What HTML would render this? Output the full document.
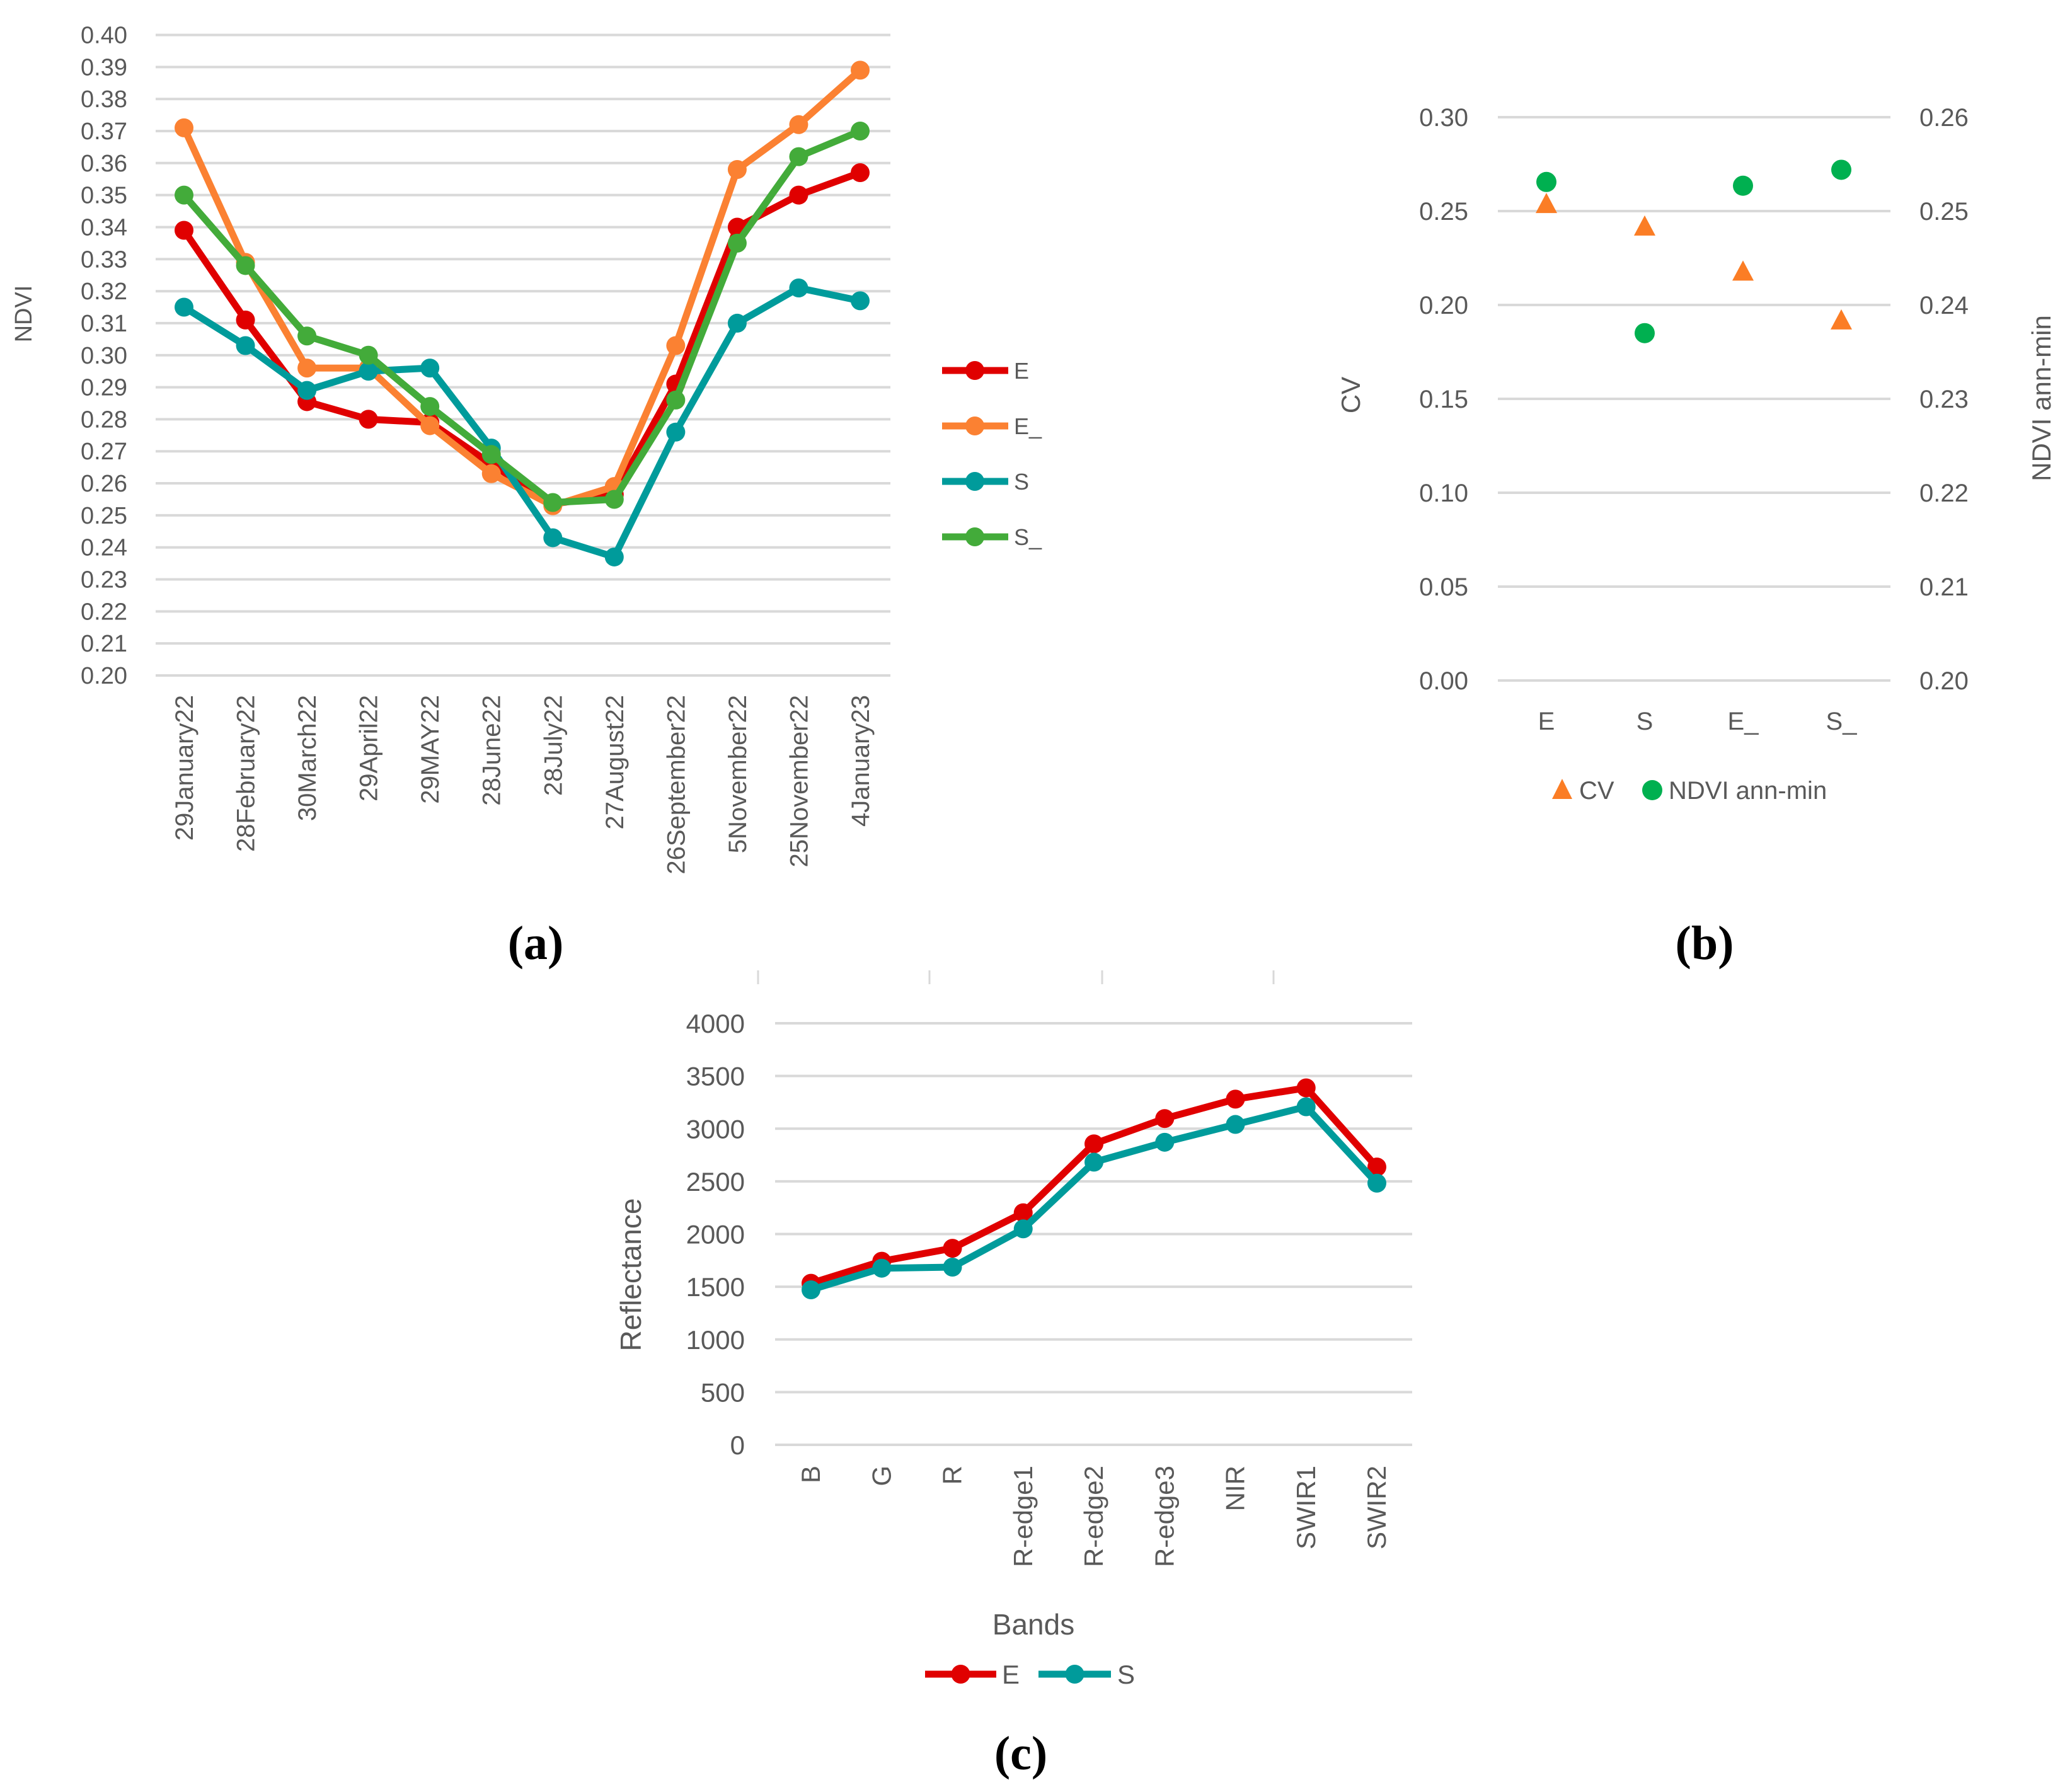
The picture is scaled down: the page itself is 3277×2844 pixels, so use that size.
<!DOCTYPE html>
<html><head><meta charset="utf-8">
<style>
html,body{margin:0;padding:0;background:#fff;}
svg{display:block;}
text{font-family:"Liberation Sans",sans-serif;fill:#595959;}
.lab{font-family:"Liberation Serif",serif;fill:#000;font-weight:bold;}
</style></head>
<body>
<svg id="svg" xmlns="http://www.w3.org/2000/svg" width="3277" height="2844" viewBox="0 0 3277 2844">
<g id="ga"></g>
<g id="gb"></g>
<g id="gc"></g>
<text class="lab" x="850" y="1522" font-size="76" text-anchor="middle">(a)</text>
<text class="lab" x="2705" y="1522" font-size="76" text-anchor="middle">(b)</text>
<text class="lab" x="1620" y="2808" font-size="76" text-anchor="middle">(c)</text>
</svg>
<script>
const aDates=["29January22","28February22","30March22","29April22","29MAY22","28June22","28July22","27August22","26September22","5November22","25November22","4January23"];
const aTicks=["0.20","0.21","0.22","0.23","0.24","0.25","0.26","0.27","0.28","0.29","0.30","0.31","0.32","0.33","0.34","0.35","0.36","0.37","0.38","0.39","0.40"];
const aE=[0.339,0.311,0.2855,0.280,0.279,0.266,0.2535,0.2565,0.291,0.340,0.350,0.357];
const aE_=[0.371,0.329,0.296,0.296,0.278,0.263,0.253,0.259,0.303,0.358,0.372,0.389];
const aS=[0.315,0.303,0.289,0.295,0.296,0.271,0.243,0.237,0.276,0.310,0.321,0.317];
const aS_=[0.350,0.328,0.306,0.300,0.284,0.269,0.254,0.255,0.286,0.335,0.362,0.370];

const bCats=["E","S","E_","S_"];
const bLeftTicks=["0.00","0.05","0.10","0.15","0.20","0.25","0.30"];
const bRightTicks=["0.20","0.21","0.22","0.23","0.24","0.25","0.26"];
const bCV=[0.254,0.242,0.218,0.192];
const bNDVI=[0.2531,0.2370,0.2527,0.2544];

const cBands=["B","G","R","R-edge1","R-edge2","R-edge3","NIR","SWIR1","SWIR2"];
const cTicks=["0","500","1000","1500","2000","2500","3000","3500","4000"];
const cE=[1533,1742,1865,2202,2856,3096,3280,3387,2636];
const cS=[1471,1676,1686,2049,2682,2871,3040,3208,2483];

const NS="http://www.w3.org/2000/svg";
function mk(parent,tag,attrs,txt){const e=document.createElementNS(NS,tag);for(const k in attrs)e.setAttribute(k,attrs[k]);if(txt!==undefined)e.textContent=txt;parent.appendChild(e);return e;}
const GRID="#d9d9d9";

// ---------- Chart A ----------
(function(){
const g=document.getElementById('ga');
const x0=247,x1=1413,yTop=55.5,yBot=1072,vmin=0.20,vmax=0.40;
const y=v=>yBot-(v-vmin)/(vmax-vmin)*(yBot-yTop);
const cx0=292,dx=(1365-292)/(aDates.length-1);
const x=i=>cx0+i*dx;
aTicks.forEach(t=>{const v=parseFloat(t);
 const l=mk(g,'line',{x1:x0,x2:x1,y1:y(v),y2:y(v),stroke:GRID,'stroke-width':4});
 
 
 const tx=mk(g,'text',{x:202,y:y(v)+13,'font-size':38,'text-anchor':'end'},t);
 
 
});
aDates.forEach((d,i)=>{const tx=mk(g,'text',{transform:`translate(${x(i)+14},1103) rotate(-90)`,'font-size':40,'text-anchor':'end'},d);
 
 });
const yl=mk(g,'text',{transform:'translate(50,498) rotate(-90)','font-size':38,'text-anchor':'middle'},'NDVI');


const series=[["E",aE,"#e00000"],["E_",aE_,"#fb8132"],["S",aS,"#009b9b"],["S_",aS_,"#43ab3a"]];
series.forEach(([nm,vals,col])=>{
 const sg=mk(g,'g',{});
 
 
 const p=mk(sg,'polyline',{points:vals.map((v,i)=>x(i)+','+y(v)).join(' '),fill:'none',stroke:col,'stroke-width':11,'stroke-linejoin':'round'});
 
 
 vals.forEach((v,i)=>{const c=mk(sg,'circle',{cx:x(i),cy:y(v),r:15,fill:col});
  
  });
});
const ly=[588,676,764,852];
series.forEach(([nm,vals,col],k)=>{
 const lg=mk(g,'g',{});
 
 
 mk(lg,'line',{x1:1495,x2:1600,y1:ly[k],y2:ly[k],stroke:col,'stroke-width':11});
 mk(lg,'circle',{cx:1547,cy:ly[k],r:15,fill:col});
 mk(lg,'text',{x:1609,y:ly[k]+13,'font-size':36},nm);
});
})();

// ---------- Chart B ----------
(function(){
const g=document.getElementById('gb');
const x0=2377,x1=3000,yTop=186,yBot=1080;
const yL=v=>yBot-(v-0)/(0.30)*(yBot-yTop);
const yR=v=>yBot-(v-0.20)/(0.06)*(yBot-yTop);
const cx0=2454,dx=(2922-2454)/3;const x=i=>cx0+i*dx;
bLeftTicks.forEach((t,k)=>{const v=parseFloat(t);
 const l=mk(g,'line',{x1:x0,x2:x1,y1:yL(v),y2:yL(v),stroke:GRID,'stroke-width':4});
 
 
 const tx=mk(g,'text',{x:2330,y:yL(v)+14,'font-size':40,'text-anchor':'end'},t);
 
 
});
bRightTicks.forEach(t=>{const v=parseFloat(t);
 const tx=mk(g,'text',{x:3046,y:yR(v)+14,'font-size':40},t);
 
 });
bCats.forEach((c,i)=>{const tx=mk(g,'text',{x:x(i),y:1158,'font-size':40,'text-anchor':'middle'},c);
 
 });
let t=mk(g,'text',{transform:'translate(2158,627) rotate(-90)','font-size':42,'text-anchor':'middle'},'CV');


t=mk(g,'text',{transform:'translate(3254,632) rotate(-90)','font-size':42,'text-anchor':'middle'},'NDVI ann-min');


bCV.forEach((v,i)=>{const cx=x(i),cy=yL(v);
 const p=mk(g,'polygon',{points:`${cx},${cy-17} ${cx+17},${cy+15} ${cx-17},${cy+15}`,fill:'#fb7d25'});
 
 });
bNDVI.forEach((v,i)=>{const c=mk(g,'circle',{cx:x(i),cy:yR(v),r:16,fill:'#00b050'});
 
 });
const l1=mk(g,'g',{});


mk(l1,'polygon',{points:'2479,1236 2495,1268 2463,1268',fill:'#fb7d25'});
mk(l1,'text',{x:2506,y:1268,'font-size':40},'CV');
const l2=mk(g,'g',{});


mk(l2,'circle',{cx:2622,cy:1254,r:16,fill:'#00b050'});
mk(l2,'text',{x:2648,y:1268,'font-size':40},'NDVI ann-min');
})();

// ---------- Chart C ----------
(function(){
const g=document.getElementById('gc');
const x0=1230,x1=2241,yTop=1624,yBot=2293;
const y=v=>yBot-v/4000*(yBot-yTop);
const cx0=1287,dx=(2185-1287)/8;const x=i=>cx0+i*dx;
[1203,1475,1749,2021].forEach(tx=>{const l=mk(g,'line',{x1:tx,x2:tx,y1:1540,y2:1562,stroke:GRID,'stroke-width':3});
 
 });
cTicks.forEach(t=>{const v=parseFloat(t);
 const l=mk(g,'line',{x1:x0,x2:x1,y1:y(v),y2:y(v),stroke:GRID,'stroke-width':4});
 
 
 const tx=mk(g,'text',{x:1182,y:y(v)+15,'font-size':42,'text-anchor':'end'},t);
 
 
});
cBands.forEach((b,i)=>{const tx=mk(g,'text',{transform:`translate(${x(i)+14},2326) rotate(-90)`,'font-size':42,'text-anchor':'end'},b);
 
 });
let t=mk(g,'text',{transform:'translate(1017,2023) rotate(-90)','font-size':46,'text-anchor':'middle'},'Reflectance');


t=mk(g,'text',{x:1640,y:2594,'font-size':46,'text-anchor':'middle'},'Bands');


const series=[["E",cE,"#e00000"],["S",cS,"#009b9b"]];
series.forEach(([nm,vals,col])=>{
 const sg=mk(g,'g',{});
 
 
 mk(sg,'polyline',{points:vals.map((v,i)=>x(i)+','+y(v)).join(' '),fill:'none',stroke:col,'stroke-width':11,'stroke-linejoin':'round'});
 vals.forEach((v,i)=>{const c=mk(sg,'circle',{cx:x(i),cy:y(v),r:15,fill:col});
  
  });
});
const leg=[[1468,1581,1590,"E","#e00000"],[1648,1763,1773,"S","#009b9b"]];
leg.forEach(([a,b,tx,nm,col])=>{const lg=mk(g,'g',{});
 
 
 mk(lg,'line',{x1:a,x2:b,y1:2657,y2:2657,stroke:col,'stroke-width':11});
 mk(lg,'circle',{cx:(a+b)/2,cy:2657,r:15,fill:col});
 mk(lg,'text',{x:tx,y:2672,'font-size':42},nm);});
})();
</script>
</body></html>
